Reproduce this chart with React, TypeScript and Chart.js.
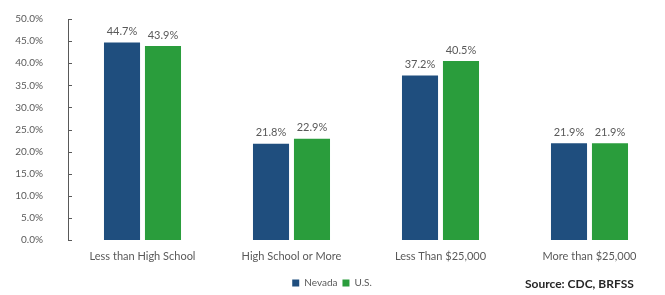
import React, { useEffect, useRef } from "react";
import { Chart, registerables } from "chart.js";

Chart.register(...registerables);

const categories = ["Less than High School", "High School or More", "Less Than $25,000", "More than $25,000"];
const nevadaValues = [44.7, 21.8, 37.2, 21.9];
const usValues = [43.9, 22.9, 40.5, 21.9];
const seriesNames = ["Nevada", "U.S."];
const sourceText = "Source: CDC, BRFSS";

const FONT = "Lato, 'Open Sans', sans-serif";
const GRAY = "#595959";

const dataLabelPlugin = {
  id: "dataLabels",
  afterDatasetsDraw(chart: any) {
    const ctx = chart.ctx;
    ctx.save();
    ctx.font = `11px ${FONT}`;
    ctx.fillStyle = GRAY;
    ctx.textAlign = "center";
    ctx.textBaseline = "middle";
    chart.data.datasets.forEach((ds: any, i: number) => {
      const meta = chart.getDatasetMeta(i);
      meta.data.forEach((el: any, j: number) => {
        ctx.fillText(Number(ds.data[j]).toFixed(1) + "%", el.x, el.y - 11);
      });
    });
    ctx.restore();
  },
};

const innerTicksPlugin = {
  id: "innerTicks",
  afterDraw(chart: any) {
    const ctx = chart.ctx;
    const y = chart.scales.y;
    ctx.save();
    ctx.strokeStyle = GRAY;
    ctx.lineWidth = 1;
    y.ticks.forEach((t: any) => {
      const py = Math.round(y.getPixelForValue(t.value)) + 0.5;
      ctx.beginPath();
      ctx.moveTo(chart.chartArea.left, py);
      ctx.lineTo(chart.chartArea.left + 4, py);
      ctx.stroke();
    });
    ctx.font = `bold 12px ${FONT}`;
    ctx.fillStyle = "#262626";
    ctx.textAlign = "left";
    ctx.textBaseline = "middle";
    ctx.fillText(sourceText, 525, 284);
    ctx.restore();
  },
};

export default function App() {
  const ref = useRef<HTMLCanvasElement>(null);
  useEffect(() => {
    document.body.style.margin = "0";
    const chart = new Chart(ref.current!, {
      type: "bar",
      data: {
        labels: categories,
        datasets: [
          { label: seriesNames[0], data: nevadaValues, backgroundColor: "#1f4e7e", barPercentage: 0.88, categoryPercentage: 0.55 },
          { label: seriesNames[1], data: usValues, backgroundColor: "#2a9d3c", barPercentage: 0.88, categoryPercentage: 0.55 },
        ],
      },
      options: {
        animation: false,
        responsive: false,
        layout: { padding: { top: 19, right: 1, left: 0, bottom: -3 } },
        plugins: {
          legend: {
            position: "bottom",
            labels: {
              boxWidth: 7,
              boxHeight: 7,
              padding: 5,
              color: GRAY,
              font: { family: FONT, size: 10 },
            },
          },
          tooltip: { enabled: false },
        },
        scales: {
          x: {
            grid: { display: false, drawTicks: false },
            border: { display: false },
            ticks: { color: GRAY, font: { family: FONT, size: 11 }, padding: 10, maxRotation: 0, autoSkip: false },
            afterFit: (s: any) => {
              s.height = 33;
            },
          },
          y: {
            min: 0,
            max: 50,
            grid: { display: false, drawTicks: true, tickLength: 25 },
            border: { display: true, color: GRAY, width: 1 },
            ticks: {
              stepSize: 5,
              padding: 0,
              color: GRAY,
              font: { family: FONT, size: 10 },
              callback: (v: any) => Number(v).toFixed(1) + "%",
            },
            afterFit: (s: any) => {
              s.width = 68;
            },
          },
        },
      },
      plugins: [dataLabelPlugin, innerTicksPlugin],
    });
    return () => chart.destroy();
  }, []);
  return (
    <div style={{ width: 665, height: 295, background: "#fff" }}>
      <canvas ref={ref} width={665} height={295} />
    </div>
  );
}
